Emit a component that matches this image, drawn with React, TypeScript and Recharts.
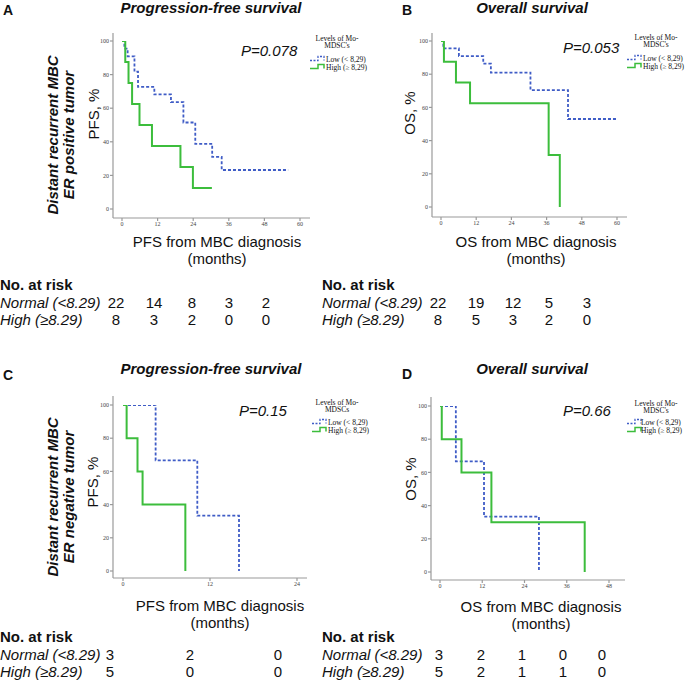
import React from 'react';
import { LineChart, Line, XAxis, YAxis } from 'recharts';

// Kaplan-Meier steps (months, % surviving)
const aLowT = [0, 0.8, 1.9, 4.2, 5.4, 10.9, 16.5, 20.7, 24.7, 30.4, 33.6, 56];
const aLowS = [100, 95.5, 90.9, 81.8, 72.7, 68.2, 63.6, 51.5, 38.8, 31, 23.2, 23.2];
const aHighT = [0, 1.1, 2.2, 3.4, 5.9, 10.1, 19.7, 23.9, 30.3];
const aHighS = [100, 87.5, 75, 62.5, 50, 37.5, 25, 12.5, 12.5];

const bLowT = [0, 0.8, 6.1, 14.4, 17.0, 30.5, 43.3, 61.4];
const bLowS = [100, 95.5, 90.9, 86.4, 81.0, 70.4, 53, 53];
const bHighT = [0, 1.0, 5.1, 9.9, 36.7, 40.5];
const bHighS = [100, 87.5, 75, 62.5, 31.3, 0];

const cLowT = [0, 4.5, 10.25, 16.0];
const cLowS = [100, 66.7, 33.3, 0];
const cHighT = [0, 0.5, 2.0, 2.7, 8.6];
const cHighS = [100, 80, 60, 40, 0];

const dLowT = [0, 4.5, 12.5, 28.1];
const dLowS = [100, 66.7, 33.3, 0];
const dHighT = [0, 0.5, 6.1, 14.6, 41.1];
const dHighS = [100, 80, 60, 30, 0];

const ticks60 = [0, 12, 24, 36, 48, 60];
const ticks48 = [0, 12, 24, 36, 48];
const ticks24 = [0, 12, 24];
const yTicks = [0, 20, 40, 60, 80, 100];

// numbers at risk
const riskANormal = [22, 14, 8, 3, 2];
const riskAHigh = [8, 3, 2, 0, 0];
const riskBNormal = [22, 19, 12, 5, 3];
const riskBHigh = [8, 5, 3, 2, 0];
const riskCNormal = [3, 2, 0];
const riskCHigh = [5, 0, 0];
const riskDNormal = [3, 2, 1, 0, 0];
const riskDHigh = [5, 2, 1, 1, 0];

const SANS = '"Liberation Sans", Arial, sans-serif';
const SERIF = '"Liberation Serif", "Times New Roman", serif';
const BLUE = '#3f5cc6';
const GREEN = '#3cbd3c';
const AXIS = '#9a9a9a';
const INK = '#111';

const toRows = (t: number[], s: number[]) => t.map((x, i) => ({ t: x, s: s[i] }));

interface PanelProps {
  x0: number; x1: number; y0: number; y1: number;
  xMax: number; xTicks: number[];
  pad: { l: number; r: number; t: number; b: number };
  low: { t: number; s: number }[];
  high: { t: number; s: number }[];
}

const KMPanel = ({ x0, x1, y0, y1, xMax, xTicks, pad, low, high }: PanelProps) => {
  const left = x0 - 30;
  const top = y0 - 4;
  const width = x1 - left + 4;
  const height = y1 - top + 16;
  const tick = { fontSize: 6, fill: '#444', fontFamily: SERIF };
  return (
    <div style={{ position: 'absolute', left, top }}>
      <LineChart width={width} height={height} margin={{ top: 4, right: 4, bottom: 0, left: 0 }}>
        <XAxis
          type="number"
          dataKey="t"
          domain={[0, xMax]}
          ticks={xTicks}
          interval={0}
          allowDataOverflow
          padding={{ left: pad.l, right: pad.r }}
          height={16}
          stroke={AXIS}
          strokeWidth={1.2}
          tickSize={3}
          tickMargin={1}
          tick={tick}
        />
        <YAxis
          type="number"
          dataKey="s"
          domain={[0, 100]}
          ticks={yTicks}
          interval={0}
          allowDataOverflow
          padding={{ top: pad.t, bottom: pad.b }}
          width={30}
          stroke={AXIS}
          strokeWidth={1.2}
          tickSize={3}
          tickMargin={1}
          tick={tick}
        />
        <Line data={low} dataKey="s" type="stepAfter" stroke={BLUE} strokeWidth={1.8}
          strokeDasharray="3 2" dot={false} isAnimationActive={false} />
        <Line data={high} dataKey="s" type="stepAfter" stroke={GREEN} strokeWidth={2}
          dot={false} isAnimationActive={false} />
      </LineChart>
    </div>
  );
};

const LegendBox = ({ cx, mx, tx, h1, low, second }: { cx: number; mx: number; tx: number; h1: number; low: number; second: string }) => {
  const step = (x: number, yb: number) => `${x},${yb} ${x + 8},${yb} ${x + 8},${yb - 4} ${x + 14},${yb - 4} ${x + 14},${yb}`;
  const fs = 7.5;
  return (
    <g fontFamily={SERIF} fontSize={fs}>
      <text x={cx} y={h1} textAnchor="middle" fill={INK}>Levels of Mo-</text>
      <text x={cx} y={h1 + 7.5} textAnchor="middle" fill={INK}>{second}</text>
      <polyline points={step(mx, low - 1)} fill="none" stroke={BLUE} strokeWidth={1.3} strokeDasharray="2 1.5" />
      <text x={tx} y={low} fill={INK}>Low (&lt; 8,29)</text>
      <polyline points={step(mx, low + 7)} fill="none" stroke={GREEN} strokeWidth={1.5} />
      <text x={tx} y={low + 8.5} fill={INK}>High (≥ 8,29)</text>
    </g>
  );
};

const RiskTable = ({ x, y, cols, normal, high }: { x: number; y: number; cols: number[]; normal: number[]; high: number[] }) => (
  <g fontFamily={SANS} fontSize={15} fill={INK}>
    <text x={x} y={y} fontWeight="bold">No. at risk</text>
    <text x={x} y={y + 18} fontStyle="italic">Normal (&lt;8.29)</text>
    <text x={x} y={y + 35} fontStyle="italic">High (≥8.29)</text>
    {normal.map((v, i) => (
      <text key={'n' + i} x={cols[i]} y={y + 18} textAnchor="middle">{v}</text>
    ))}
    {high.map((v, i) => (
      <text key={'h' + i} x={cols[i]} y={y + 35} textAnchor="middle">{v}</text>
    ))}
  </g>
);

const SideLabel = ({ cy, second }: { cy: number; second: string }) => (
  <g fontFamily={SANS} fontSize={15} fontWeight="bold" fontStyle="italic" fill={INK} textAnchor="middle">
    <text x={58} y={cy} transform={`rotate(-90 58 ${cy})`}>Distant recurrent MBC</text>
    <text x={74} y={cy} transform={`rotate(-90 74 ${cy})`}>{second}</text>
  </g>
);

const YLabel = ({ x, cy, label }: { x: number; cy: number; label: string }) => (
  <text x={x} y={cy} transform={`rotate(-90 ${x} ${cy})`} textAnchor="middle"
    fontFamily={SANS} fontSize={15} fill={INK}>{label}</text>
);

const XLabel = ({ cx, y, label }: { cx: number; y: number; label: string }) => (
  <g fontFamily={SANS} fontSize={15} fill={INK} textAnchor="middle">
    <text x={cx} y={y}>{label}</text>
    <text x={cx} y={y + 17}>(months)</text>
  </g>
);

export default function App() {
  return (
    <div style={{ position: 'absolute', left: 0, top: 0, width: 685, height: 689, background: '#fff' }}>
      <KMPanel x0={113} x1={310} y0={33} y1={218} xMax={60} xTicks={ticks60}
        pad={{ l: 9, r: 10, t: 8, b: 9 }} low={toRows(aLowT, aLowS)} high={toRows(aHighT, aHighS)} />
      <KMPanel x0={432} x1={627} y0={33} y1={217} xMax={60} xTicks={ticks60}
        pad={{ l: 9, r: 10, t: 8, b: 10 }} low={toRows(bLowT, bLowS)} high={toRows(bHighT, bHighS)} />
      <KMPanel x0={113} x1={307} y0={396} y1={578} xMax={24} xTicks={ticks24}
        pad={{ l: 10, r: 10, t: 9, b: 7 }} low={toRows(cLowT, cLowS)} high={toRows(cHighT, cHighS)} />
      <KMPanel x0={431} x1={625} y0={397} y1={580} xMax={48} xTicks={ticks48}
        pad={{ l: 9, r: 16, t: 9, b: 8 }} low={toRows(dLowT, dLowS)} high={toRows(dHighT, dHighS)} />

      <svg width={685} height={689} style={{ position: 'absolute', left: 0, top: 0, pointerEvents: 'none' }}>
        <g fontFamily={SANS} fontWeight="bold" fontSize={14} fill={INK}>
          <text x={3} y={15}>A</text>
          <text x={402} y={15}>B</text>
          <text x={3} y={380}>C</text>
          <text x={402} y={379}>D</text>
        </g>
        <g fontFamily={SANS} fontWeight="bold" fontStyle="italic" fontSize={15} fill={INK} textAnchor="middle">
          <text x={211} y={13}>Progression-free survival</text>
          <text x={532} y={13}>Overall survival</text>
          <text x={211} y={374}>Progression-free survival</text>
          <text x={532} y={374}>Overall survival</text>
        </g>
        <g fontFamily={SANS} fontStyle="italic" fontSize={15} fill={INK}>
          <text x={241} y={56}>P=0.078</text>
          <text x={563} y={53}>P=0.053</text>
          <text x={239} y={416}>P=0.15</text>
          <text x={563} y={416}>P=0.66</text>
        </g>

        <LegendBox cx={337} mx={310} tx={326} h1={40.5} low={61.5} second="MDSC's" />
        <LegendBox cx={656} mx={627} tx={643} h1={39.5} low={60.5} second="MDSC's" />
        <LegendBox cx={337} mx={312} tx={328} h1={404.5} low={424.5} second="MDSCs" />
        <LegendBox cx={656} mx={627} tx={641} h1={405.5} low={424.5} second="MDSC's" />

        <SideLabel cy={135} second="ER positive tumor" />
        <SideLabel cy={497} second="ER negative tumor" />

        <YLabel x={99} cy={114} label="PFS, %" />
        <YLabel x={415} cy={113} label="OS, %" />
        <YLabel x={98} cy={482} label="PFS, %" />
        <YLabel x={416} cy={479} label="OS, %" />

        <XLabel cx={217} y={247} label="PFS from MBC diagnosis" />
        <XLabel cx={536} y={247} label="OS from MBC diagnosis" />
        <XLabel cx={220} y={611} label="PFS from MBC diagnosis" />
        <XLabel cx={541} y={612} label="OS from MBC diagnosis" />

        <RiskTable x={0} y={290} cols={[116, 154, 192, 229, 266]} normal={riskANormal} high={riskAHigh} />
        <RiskTable x={322} y={290} cols={[438, 476, 513, 549, 587]} normal={riskBNormal} high={riskBHigh} />
        <RiskTable x={0} y={642} cols={[110, 190, 278]} normal={riskCNormal} high={riskCHigh} />
        <RiskTable x={322} y={642} cols={[439, 481, 522, 563, 602]} normal={riskDNormal} high={riskDHigh} />
      </svg>
    </div>
  );
}
